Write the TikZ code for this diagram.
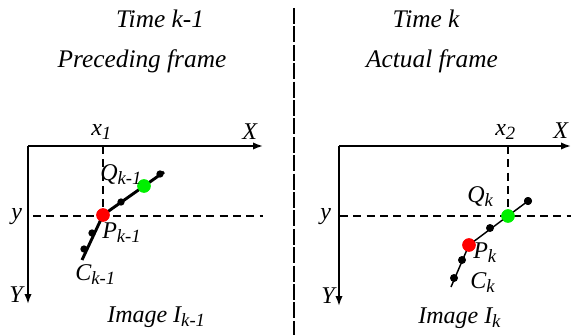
\documentclass[tikz,border=0pt]{standalone}
\usepackage{fontspec}
\setmainfont{Liberation Serif}
\newfontfamily\tnr{Liberation Serif}
\usetikzlibrary{arrows.meta}
\newcommand{\sbs}[1]{\raisebox{-0.45ex}{\fontsize{14}{14}\selectfont #1}}
\tikzset{
  title/.style={font=\tnr\fontsize{19}{22}\selectfont\itshape, inner sep=0pt, anchor=base},
  lbl/.style={font=\tnr\fontsize{18}{20}\selectfont\itshape, inner sep=0pt, anchor=base west},
  axis/.style={line width=1.3pt, -{Latex[length=7.5pt,width=5.5pt]}},
  guide/.style={line width=0.9pt, dash pattern=on 6pt off 4pt},
  blk/.style={circle, fill=black, inner sep=0pt, minimum size=#1},
  blk/.default=5.5pt,
  redpt/.style={circle, fill=red, inner sep=0pt, minimum size=10pt},
  greenpt/.style={circle, fill={rgb,255:red,0;green,240;blue,0}, inner sep=0pt, minimum size=10pt},
}
\begin{document}
\begin{tikzpicture}[x=0.75pt,y=-0.75pt]
\useasboundingbox (0,0) rectangle (574,335);
% titles
\node[title] (t1) at (160,28) {Time k-1};
\node[title] (t2) at (142,68) {Preceding frame};
\node[title] (t3) at (426,28) {Time k};
\node[title] (t4) at (432,68) {Actual frame};
% divider
\coordinate (dtop) at (294,8);
\coordinate (dbot) at (294,335);
\draw[line width=2.2pt, dash pattern=on 12pt off 1.8pt] (dtop) -- (dbot);

% ---------- left panel ----------
\coordinate (o1) at (28,146);
\coordinate (xe1) at (263,146);
\coordinate (ye1) at (28,304);
\draw[axis] (o1) -- (xe1);
\draw[axis] (o1) -- (ye1);
\coordinate (hd1a) at (33,216);
\coordinate (hd1b) at (263,216);
\coordinate (vd1a) at (103,146);
\draw[guide] (hd1a) -- (hd1b);
\coordinate (c1end) at (82,260);
\coordinate (q1end) at (164,172);
\node[redpt] (P1) at (103,215) {};
\node[greenpt] (Q1) at (144,186) {};
\draw[guide] (vd1a) -- (P1.center);
\draw[line width=2.2pt] (c1end) -- (P1.center) -- (q1end);
\node[redpt] at (P1) {};
\node[greenpt] at (Q1) {};
\node[blk] (b11) at (84,249) {};
\node[blk] (b12) at (92,233) {};
\node[blk] (b13) at (121,202) {};
\node[blk] (b14) at (160,174) {};
\node[lbl] (lx1) at (91,135) {x\sbs{1}};
\node[lbl] (lX1) at (242,139) {X};
\node[lbl] (ly1) at (11,219) {y};
\node[lbl] (lY1) at (9,302) {Y};
\node[lbl] (lQ1) at (100,180) {Q\sbs{k-1}};
\node[lbl] (lP1) at (102,238) {P\sbs{k-1}};
\node[lbl] (lC1) at (75,280) {C\sbs{k-1}};
\node[lbl] (lI1) at (107,322) {Image I\sbs{k-1}};

% ---------- right panel ----------
\coordinate (o2) at (339,146);
\coordinate (xe2) at (571,146);
\coordinate (ye2) at (339,306);
\draw[axis] (o2) -- (xe2);
\draw[axis] (o2) -- (ye2);
\coordinate (hd2a) at (340,216);
\coordinate (hd2b) at (571,216);
\coordinate (vd2a) at (508,146);
\draw[guide] (hd2a) -- (hd2b);
\coordinate (c2end) at (451,287);
\node[blk=6pt] (b24) at (528,201) {};
\node[redpt] (P2) at (469,245) {};
\node[greenpt] (Q2) at (508,216) {};
\draw[guide] (vd2a) -- (Q2.center);
\draw[line width=1.1pt] (c2end) -- (P2.center) -- (b24.center);
\node[redpt] at (P2) {};
\node[greenpt] at (Q2) {};
\node[blk=6pt] at (b24) {};
\node[blk=6pt] (b21) at (454,278) {};
\node[blk=6pt] (b22) at (462,260) {};
\node[blk=6pt] (b23) at (490,228) {};
\node[lbl] (lx2) at (495,135) {x\sbs{2}};
\node[lbl] (lX2) at (553,138) {X};
\node[lbl] (ly2) at (320,219) {y};
\node[lbl] (lY2) at (321,303) {Y};
\node[lbl] (lQ2) at (467,202) {Q\sbs{k}};
\node[lbl] (lP2) at (473,258) {P\sbs{k}};
\node[lbl] (lC2) at (470,288) {C\sbs{k}};
\node[lbl] (lI2) at (418,323) {Image I\sbs{k}};
\end{tikzpicture}
\end{document}
